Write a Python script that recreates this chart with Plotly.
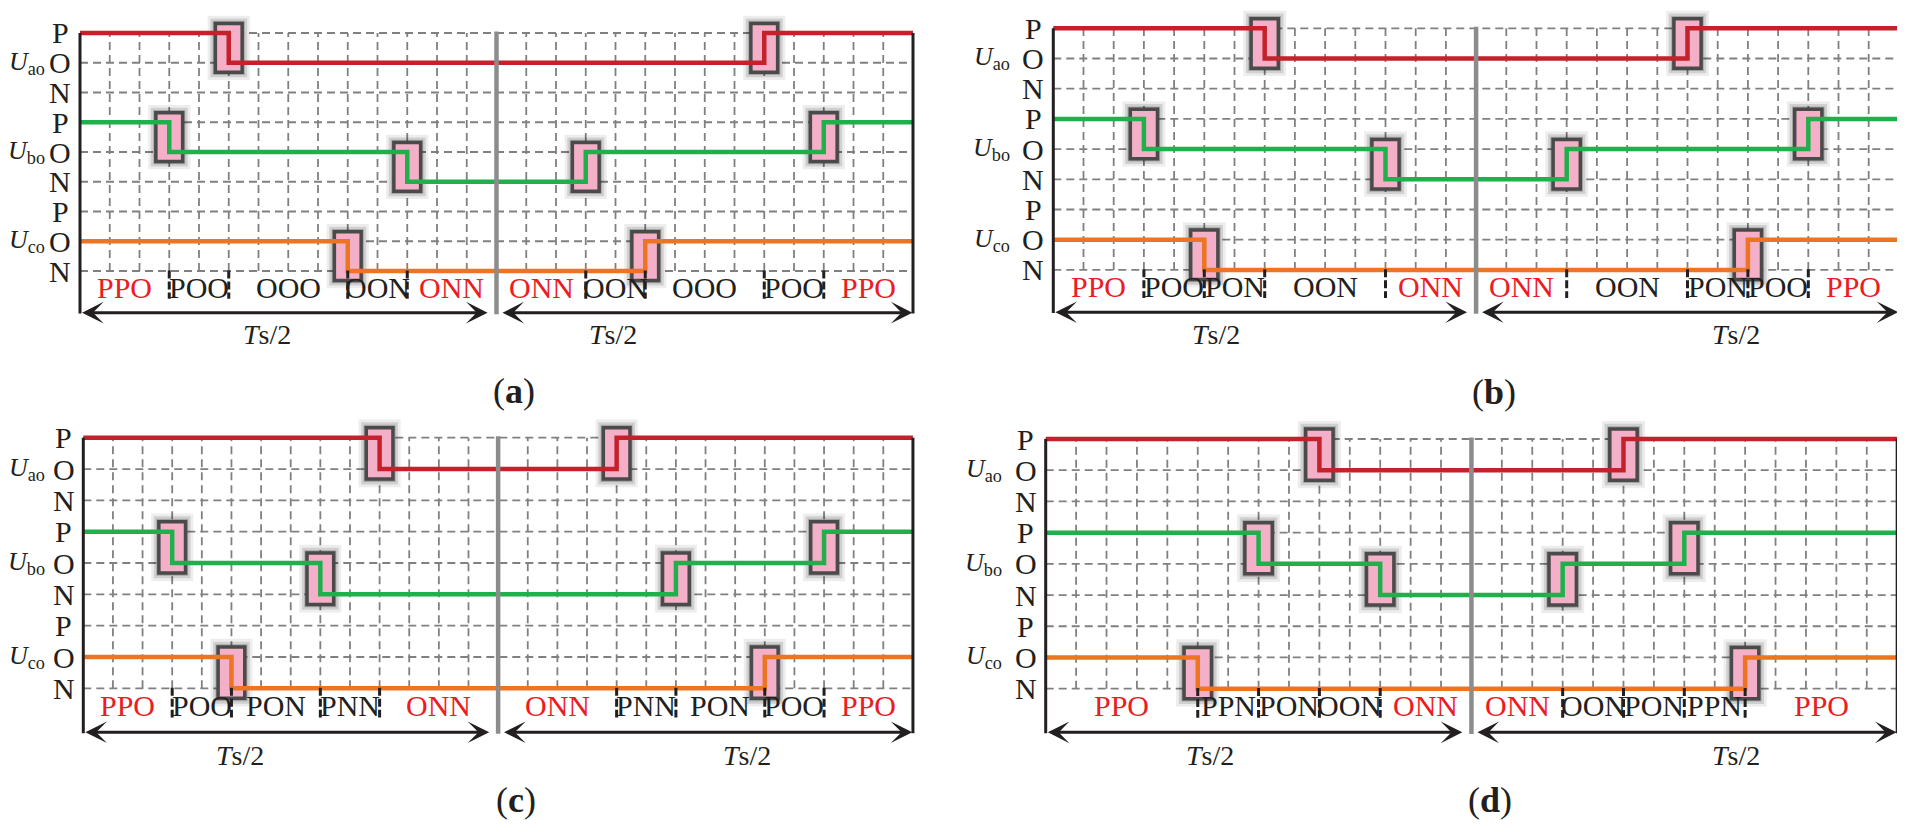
import plotly.graph_objects as go

# ---------------- data ----------------
LEVEL_INDEX = {"N": 0, "O": 1, "P": 2}        # level letters, bottom to top
LEVEL_ROWS = ["P", "O", "N"]                   # y tick letters per phase (top to bottom)
PHASE_NAMES = ["ao", "bo", "co"]
PHASE_BASE = {"ao": 6, "bo": 3, "co": 0}       # grid row of N level for each phase
PANEL_TAGS = ["a", "b", "c", "d"]
HALF = 14                                      # grid cells per Ts/2
PERIOD = 28                                    # grid cells per Ts

# (a)
a_ao_t = [5, 23];          a_ao_lv = ["P", "O", "P"]
a_bo_t = [3, 11, 17, 25];  a_bo_lv = ["P", "O", "N", "O", "P"]
a_co_t = [9, 19];          a_co_lv = ["O", "N", "O"]
a_states = ["PPO", "POO", "OOO", "OON", "ONN", "ONN", "OON", "OOO", "POO", "PPO"]
# (b)
b_ao_t = [7, 21];          b_ao_lv = ["P", "O", "P"]
b_bo_t = [3, 11, 17, 25];  b_bo_lv = ["P", "O", "N", "O", "P"]
b_co_t = [5, 23];          b_co_lv = ["O", "N", "O"]
b_states = ["PPO", "POO", "PON", "OON", "ONN", "ONN", "OON", "PON", "POO", "PPO"]
# (c)
c_ao_t = [10, 18];         c_ao_lv = ["P", "O", "P"]
c_bo_t = [3, 8, 20, 25];   c_bo_lv = ["P", "O", "N", "O", "P"]
c_co_t = [5, 23];          c_co_lv = ["O", "N", "O"]
c_states = ["PPO", "POO", "PON", "PNN", "ONN", "ONN", "PNN", "PON", "POO", "PPO"]
# (d)
d_ao_t = [9, 19];          d_ao_lv = ["P", "O", "P"]
d_bo_t = [7, 11, 17, 21];  d_bo_lv = ["P", "O", "N", "O", "P"]
d_co_t = [5, 23];          d_co_lv = ["O", "N", "O"]
d_states = ["PPO", "PPN", "PON", "OON", "ONN", "ONN", "OON", "PON", "PPN", "PPO"]

PANELS = {
    "a": {"ao": (a_ao_t, a_ao_lv), "bo": (a_bo_t, a_bo_lv), "co": (a_co_t, a_co_lv), "states": a_states},
    "b": {"ao": (b_ao_t, b_ao_lv), "bo": (b_bo_t, b_bo_lv), "co": (b_co_t, b_co_lv), "states": b_states},
    "c": {"ao": (c_ao_t, c_ao_lv), "bo": (c_bo_t, c_bo_lv), "co": (c_co_t, c_co_lv), "states": c_states},
    "d": {"ao": (d_ao_t, d_ao_lv), "bo": (d_bo_t, d_bo_lv), "co": (d_co_t, d_co_lv), "states": d_states},
}

# ---------------- layout / style ----------------
OFF = 8                      # page body margin
W, H = 1905 - OFF, 829 - 2 * OFF
# pixel geometry measured in the 1905x829 window
GEOM = {
    "a": dict(px=(9, 945), py=(9, 414), X0=80.0, ux=29.75, Y8=33.0, uy=29.75, ts=(6.3, 17.9), lab=-4.03, upx=46),
    "b": dict(px=(955, 1904), py=(9, 414), X0=1053.3, ux=30.2, Y8=28.3, uy=30.2, ts=(5.4, 22.6), lab=-4.05, upx=1011),
    "c": dict(px=(9, 945), py=(418, 820), X0=83.3, ux=29.63, Y8=437.7, uy=31.33, ts=(5.3, 22.4), lab=-3.56, upx=46),
    "d": dict(px=(955, 1904), py=(418, 820), X0=1045.7, ux=30.41, Y8=439.0, uy=31.21, ts=(5.4, 22.7), lab=-3.56, upx=1003),
}
PHASE_COLOR = {"ao": "#C4212B", "bo": "#1FB04C", "co": "#ED7422"}
FONT = "Liberation Serif, Times New Roman, serif"
INK = "#231F20"
RED_TXT = "#EC1C24"
GRID = "#808080"
PINK = "#F4B0C8"
ARROW_Y = -1.4

fig = go.Figure()
shapes, annotations = [], []

for i, tag in enumerate(PANEL_TAGS):
    g = GEOM[tag]
    p = PANELS[tag]
    sfx = "" if i == 0 else str(i + 1)
    xr, yr = "x" + sfx, "y" + sfx

    xmin = (g["px"][0] - g["X0"]) / g["ux"]
    xmax = (g["px"][1] - g["X0"]) / g["ux"]
    ymax = 8 + (g["Y8"] - g["py"][0]) / g["uy"]
    ymin = 8 - (g["py"][1] - g["Y8"]) / g["uy"]
    dx = [(g["px"][0] - OFF) / W, min(1.0, (g["px"][1] - OFF) / W)]
    dy = [max(0.0, 1 - (g["py"][1] - OFF) / H), 1 - (g["py"][0] - OFF) / H]
    fig.layout["xaxis" + sfx] = dict(domain=dx, range=[xmin, xmax], visible=False, fixedrange=True, anchor=yr)
    fig.layout["yaxis" + sfx] = dict(domain=dy, range=[ymin, ymax], visible=False, fixedrange=True, anchor=xr)

    # dashed grid
    for k in range(0, 9):
        shapes.append(dict(type="line", xref=xr, yref=yr, x0=0, x1=PERIOD, y0=k, y1=k, layer="below",
                           line=dict(color=GRID, width=1.8, dash="8px,5px")))
    for j in range(1, PERIOD):
        if j == HALF:
            continue
        shapes.append(dict(type="line", xref=xr, yref=yr, x0=j, x1=j, y0=0, y1=8, layer="below",
                           line=dict(color=GRID, width=1.8, dash="8px,5px")))

    # switching boxes
    for ph in PHASE_NAMES:
        times, lv = p[ph]
        base = PHASE_BASE[ph]
        for t, l0, l1 in zip(times, lv[:-1], lv[1:]):
            mid = base + (LEVEL_INDEX[l0] + LEVEL_INDEX[l1]) / 2
            for pad, op in ((0.26, 0.07), (0.17, 0.12), (0.09, 0.2)):
                shapes.append(dict(type="rect", xref=xr, yref=yr, x0=t - 0.45 - pad, x1=t + 0.45 + pad,
                                   y0=mid - 0.82 - pad, y1=mid + 0.82 + pad, layer="below",
                                   line=dict(width=0), fillcolor=f"rgba(0,0,0,{op})"))
            shapes.append(dict(type="rect", xref=xr, yref=yr, x0=t - 0.45, x1=t + 0.45,
                               y0=mid - 0.82, y1=mid + 0.82, layer="below",
                               line=dict(color="#4A4A4A", width=3.5), fillcolor=PINK))

    # step waveforms
    for ph in PHASE_NAMES:
        times, lv = p[ph]
        base = PHASE_BASE[ph]
        xs = [0] + list(times) + [PERIOD]
        ys = [base + LEVEL_INDEX[l] for l in lv] + [base + LEVEL_INDEX[lv[-1]]]
        fig.add_trace(go.Scatter(x=xs, y=ys, mode="lines", line=dict(color=PHASE_COLOR[ph], width=4.5, shape="hv"),
                                 xaxis=xr, yaxis=yr, showlegend=False, hoverinfo="skip"))

    # frame lines
    for xv in (0, PERIOD):
        shapes.append(dict(type="line", xref=xr, yref=yr, x0=xv, x1=xv, y0=8, y1=ARROW_Y - 0.03, layer="above",
                           line=dict(color=INK, width=3)))
    shapes.append(dict(type="line", xref=xr, yref=yr, x0=HALF, x1=HALF, y0=8.05, y1=ARROW_Y - 0.05, layer="above",
                       line=dict(color="#8C8C8C", width=4.5)))

    # state separators and labels
    bounds = sorted(set([0, HALF, PERIOD] + [t for ph in PHASE_NAMES for t in p[ph][0]]))
    for b in bounds:
        if b in (0, HALF, PERIOD):
            continue
        shapes.append(dict(type="line", xref=xr, yref=yr, x0=b, x1=b, y0=0.02, y1=-0.93, layer="above",
                           line=dict(color=INK, width=3, dash="8px,3px")))
    n_st = len(p["states"])
    for k, (s, l, r) in enumerate(zip(p["states"], bounds[:-1], bounds[1:])):
        red = k in (0, n_st // 2 - 1, n_st // 2, n_st - 1)
        annotations.append(dict(x=(l + r) / 2, y=-0.55, xref=xr, yref=yr, text=s, showarrow=False,
                                font=dict(family=FONT, size=30, color=RED_TXT if red else INK)))

    # y level letters and phase names
    ux_label = (g["upx"] - g["X0"]) / g["ux"]
    for ph in PHASE_NAMES:
        base = PHASE_BASE[ph]
        for lv in LEVEL_ROWS:
            annotations.append(dict(x=-0.66, y=base + LEVEL_INDEX[lv], xref=xr, yref=yr, text=lv, showarrow=False,
                                    font=dict(family=FONT, size=30, color=INK)))
        annotations.append(dict(x=ux_label, y=base + 1, xref=xr, yref=yr, xanchor="right", borderpad=0,
                                text=f"<i>U</i><sub>{ph}</sub>", showarrow=False,
                                font=dict(family=FONT, size=26, color=INK)))

    # Ts/2 arrows
    for (x_head, x_tail) in ((HALF - 0.3, 0.02), (PERIOD - 0.02, HALF + 0.15)):
        annotations.append(dict(x=x_head, y=ARROW_Y, ax=x_tail, ay=ARROW_Y, xref=xr, yref=yr, axref=xr, ayref=yr,
                                text="", showarrow=True, arrowhead=3, startarrowhead=3, arrowside="end+start",
                                arrowsize=1.2, startarrowsize=1.2, arrowwidth=3, arrowcolor=INK))
    for tx in g["ts"]:
        annotations.append(dict(x=tx, y=-2.15, xref=xr, yref=yr, text="<i>T</i>s/2", showarrow=False,
                                font=dict(family=FONT, size=28, color=INK)))
    annotations.append(dict(x=14.6, y=g["lab"], xref=xr, yref=yr, text=f"(<b>{tag}</b>)", showarrow=False,
                            font=dict(family=FONT, size=36, color=INK)))

fig.update_layout(width=W, height=H, margin=dict(l=0, r=0, t=0, b=0),
                  paper_bgcolor="white", plot_bgcolor="rgba(0,0,0,0)",
                  shapes=shapes, annotations=annotations, showlegend=False)

fig.write_html("out.html")
